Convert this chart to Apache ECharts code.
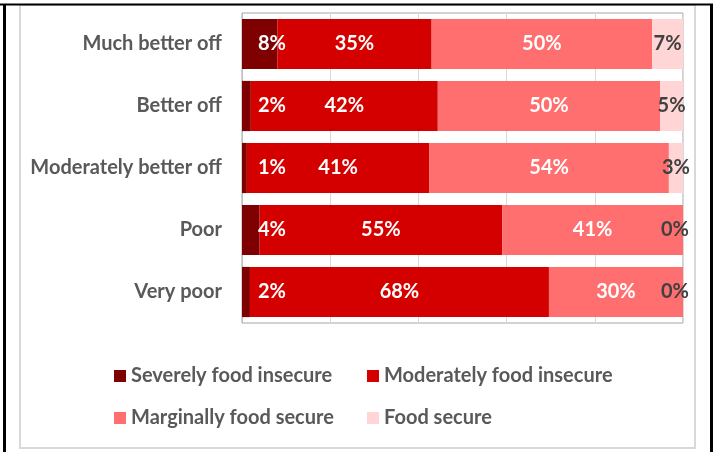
<!DOCTYPE html>
<html>
<head>
<meta charset="utf-8">
<script src="https://cdn.jsdelivr.net/npm/echarts@6/dist/echarts.min.js"></script>
<style>
  html, body { margin: 0; padding: 0; background: #fff; }
  #main { width: 713px; height: 452px; }
</style>
</head>
<body>
<div id="main"></div>
<script>
// categories, top to bottom
var groups = ['Much better off', 'Better off', 'Moderately better off', 'Poor', 'Very poor'];
var seriesNames = ['Severely food insecure', 'Moderately food insecure', 'Marginally food secure', 'Food secure'];

// shares in % (labels show them rounded)
var severe = [8, 2, 1.1, 4, 1.8];
var moderate = [35, 42.4, 41.4, 55, 67.8];
var marginal = [50, 50.4, 54.3, 41, 30.4];
var secure = [7, 5.2, 3.2, 0, 0];

var colors = ['#7f0000', '#d40000', '#ff6f6f', '#ffd5d5'];
var font = 'Lato';
var fsize = 20;

function labelFmt(p) {
  return Math.round(p.value) + '%';
}

// zero-width segments: nudge the label left a bit, like Excel does
function withZeroOffset(arr) {
  return arr.map(function (v) {
    if (v === 0) return { value: v, label: { offset: [-8, 0] } };
    return v;
  });
}

function makeSeries(name, data, color, labelColor, pos, dist) {
  return {
    name: name,
    type: 'bar',
    stack: 'total',
    data: data,
    barCategoryGap: '19%',
    itemStyle: { color: color },
    label: {
      show: true,
      position: pos,
      distance: dist,
      formatter: labelFmt,
      color: labelColor,
      fontFamily: font,
      fontWeight: 'bold',
      fontSize: fsize
    },
    emphasis: { disabled: true },
    silent: true
  };
}

var chart = echarts.init(document.getElementById('main'), null, { renderer: 'canvas' });

var option = {
  animation: false,
  backgroundColor: '#fff',
  color: colors,
  graphic: [
    // outer frame
    { type: 'rect', shape: { x: 20, y: 5, width: 675, height: 443 }, style: { fill: 'none', stroke: '#d9d9d9', lineWidth: 2 } },
    { type: 'line', shape: { x1: 0, y1: 4.5, x2: 713, y2: 4.5 }, style: { stroke: '#000', lineWidth: 2 } },
    { type: 'line', shape: { x1: 4.5, y1: 4, x2: 4.5, y2: 452 }, style: { stroke: '#000', lineWidth: 3 } },
    { type: 'line', shape: { x1: 711.5, y1: 4, x2: 711.5, y2: 452 }, style: { stroke: '#000', lineWidth: 3 } }
  ],
  grid: {
    left: 242,
    right: 30,
    top: 13,
    bottom: 129,
    show: true,
    borderColor: '#a6a6a6',
    borderWidth: 1
  },
  legend: [{
    orient: 'vertical',
    left: 109,
    top: 361,
    itemWidth: 12,
    itemHeight: 12,
    itemGap: 22,
    icon: 'rect',
    data: [seriesNames[0], seriesNames[2]],
    textStyle: { color: '#595959', fontFamily: font, fontWeight: 'bold', fontSize: fsize }
  }, {
    orient: 'vertical',
    left: 362,
    top: 361,
    itemWidth: 12,
    itemHeight: 12,
    itemGap: 22,
    icon: 'rect',
    data: [seriesNames[1], seriesNames[3]],
    textStyle: { color: '#595959', fontFamily: font, fontWeight: 'bold', fontSize: fsize }
  }],
  xAxis: {
    type: 'value',
    min: 0,
    max: 100,
    interval: 20,
    axisLabel: { show: false },
    axisLine: { show: false },
    axisTick: { show: false },
    splitLine: { lineStyle: { color: '#d9d9d9', width: 1 } }
  },
  yAxis: {
    type: 'category',
    inverse: true,
    data: groups,
    axisTick: { show: false },
    axisLine: { lineStyle: { color: '#bfbfbf' } },
    axisLabel: {
      margin: 20,
      color: '#595959',
      fontFamily: font,
      fontWeight: 'bold',
      fontSize: fsize
    }
  },
  series: [
    makeSeries(seriesNames[0], severe, colors[0], '#fff', 'insideLeft', 16),
    makeSeries(seriesNames[1], moderate, colors[1], '#fff', 'inside', 0),
    makeSeries(seriesNames[2], marginal, colors[2], '#fff', 'inside', 0),
    makeSeries(seriesNames[3], withZeroOffset(secure), colors[3], '#404040', 'inside', 0)
  ]
};

chart.setOption(option);
</script>
</body>
</html>
